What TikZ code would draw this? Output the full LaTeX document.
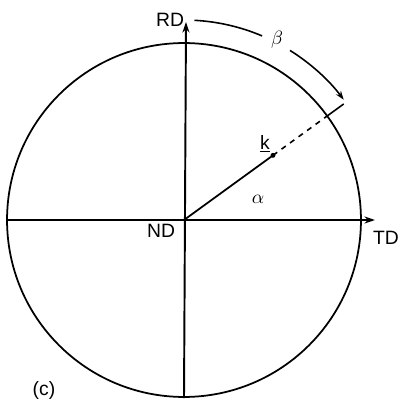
\documentclass[tikz,border=0pt]{standalone}
\usepackage{fontspec}
\setsansfont{Liberation Sans}
\usetikzlibrary{arrows.meta, calc}

\begin{document}
\begin{tikzpicture}[
    x=0.02cm, y=-0.02cm,
    rim/.style={line width=1pt},
    axis/.style={line width=1.1pt, -{Stealth[length=6pt, width=4pt]}},
    ray/.style={line width=1pt},
    sweep/.style={line width=0.9pt},
    lbl/.style={font=\sffamily\fontsize{11}{13}\selectfont, inner sep=1pt}
]
\useasboundingbox (0,0) rectangle (398,405);

% centre of the pole figure and axis ends
\coordinate (nd) at (184,220);
\coordinate (rdtip) at (186,22);
\coordinate (bottom) at (184,398);
\coordinate (left) at (7,220);
\coordinate (tdtip) at (375,220);

% circle and reference axes
\draw[rim] (nd) circle[radius=3.54cm];
\draw[axis] (bottom) -- (rdtip);
\draw[axis] (left) -- (tdtip);

% direction k and its projection
\coordinate (k) at ($(nd)+(36:2.2cm)$);
\coordinate (kedge) at ($(nd)+(36:3.54cm)$);
\coordinate (kout) at ($(nd)+(36:3.95cm)$);
\draw[ray] (nd) -- (k);
\fill (k) circle[radius=1.4pt];
\draw[sweep, dashed] (k) -- (kedge);
\draw[sweep] (kedge) -- (kout);

% angle beta measured from RD
\coordinate (bstart) at ($(nd)+(87:4cm)$);
\coordinate (bmid) at ($(nd)+(58:4cm)$);
\draw[sweep] (bstart) arc[start angle=87, end angle=67, radius=4cm];
\draw[sweep, -{Stealth[length=5pt, width=3.5pt]}] (bmid) arc[start angle=58, end angle=37, radius=4cm];

% labels
\node[lbl] (rdlbl) at (170,20) {RD};
\node[lbl] (ndlbl) at (161,231) {ND};
\node[lbl] (tdlbl) at (386,238) {TD};
\node[lbl] (klbl) at (265,144) {\underline{k}};
\node[lbl] (alphalbl) at (258,199) {$\alpha$};
\node[lbl] (betalbl) at (277,40) {$\beta$};
\node[lbl] (caption) at (44,390) {(c)};
\end{tikzpicture}
\end{document}
